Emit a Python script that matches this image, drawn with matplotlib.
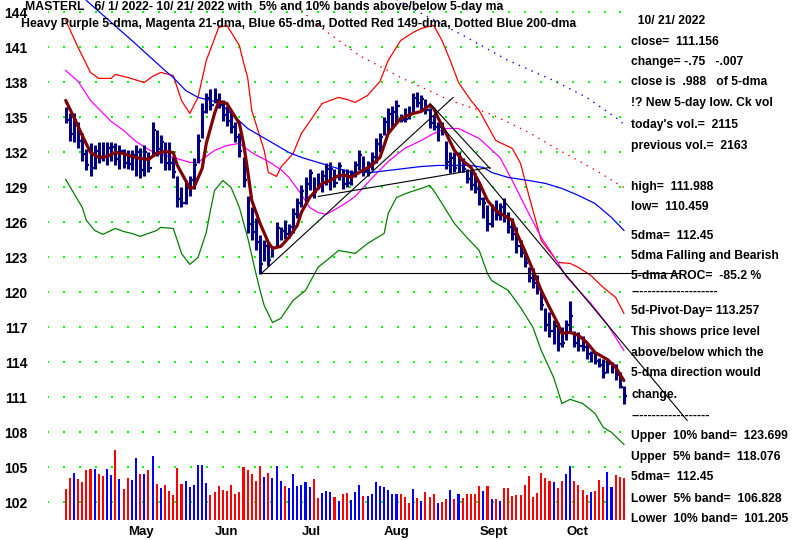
import numpy as np
import matplotlib.pyplot as plt

plt.rcParams['font.family'] = ['Liberation Sans', 'DejaVu Sans']
plt.rcParams['font.weight'] = 'bold'

# ---- daily bars, index 0 = first day shown, index 135 = 10/21/2022 ----
highs = [135.9, 135.4, 135.4, 134.6, 133.7, 132.3, 132.8, 132.6, 132.9, 132.9,
         132.9, 132.9, 132.8, 132.6, 132.3, 132.2, 132.2, 132.6, 132.4, 132.6,
         132.0, 134.6, 133.9, 133.5, 132.9, 132.9, 131.6, 130.0, 129.0, 129.6,
         130.0, 131.5, 133.6, 136.2, 137.1, 137.4, 137.5, 137.1, 136.5, 136.0,
         135.6, 134.6, 133.7, 131.6, 128.3, 127.3, 126.4, 124.9, 124.5, 124.3,
         124.0, 126.0, 125.6, 126.2, 125.9, 127.2, 128.1, 129.2, 129.9, 130.6,
         129.9, 130.2, 130.5, 131.1, 131.2, 130.6, 131.2, 130.6, 130.6, 130.5,
         131.3, 132.2, 131.7, 131.3, 132.0, 133.2, 133.7, 135.0, 135.8, 136.0,
         136.5, 135.3, 135.8, 136.0, 137.1, 137.2, 136.9, 136.6, 135.8, 135.2,
         134.6, 134.6, 133.0, 132.0, 132.0, 132.0, 131.5, 130.6, 130.5, 130.2,
         129.4, 128.2, 127.5, 127.6, 127.9, 127.7, 128.1, 126.9, 126.4, 125.6,
         124.5, 123.4, 122.2, 122.1, 121.5, 120.2, 118.7, 118.3, 117.6, 117.4,
         117.0, 117.6, 119.3, 116.7, 116.6, 116.3, 115.7, 115.0, 114.8, 114.4,
         114.3, 114.2, 114.0, 113.9, 113.2, 111.988]
lows = [134.5, 133.0, 132.9, 132.4, 131.3, 130.5, 130.0, 130.6, 131.1, 131.3,
        130.9, 131.3, 130.9, 130.6, 130.7, 130.6, 130.5, 130.0, 129.8, 130.0,
        130.3, 131.7, 131.7, 131.1, 130.5, 130.5, 129.8, 127.3, 127.3, 127.6,
        128.3, 128.9, 131.1, 133.2, 135.4, 135.6, 136.2, 135.8, 134.7, 134.3,
        133.7, 132.9, 131.6, 129.0, 125.1, 124.5, 123.6, 121.6, 122.7, 122.3,
        123.0, 124.0, 124.5, 124.6, 124.7, 125.1, 126.4, 127.3, 127.6, 128.8,
        128.1, 128.9, 128.6, 129.2, 128.8, 129.0, 129.6, 128.9, 129.0, 129.2,
        129.9, 130.5, 130.0, 130.0, 130.5, 131.1, 132.0, 133.5, 133.7, 134.1,
        134.5, 134.6, 134.6, 134.9, 135.3, 135.9, 135.6, 135.3, 134.1, 133.9,
        133.0, 133.5, 130.6, 130.2, 130.3, 130.3, 130.3, 129.4, 128.8, 128.5,
        127.5, 126.4, 125.3, 125.6, 126.2, 126.2, 126.0, 125.1, 124.5, 123.4,
        123.0, 122.2, 120.9, 120.4, 119.9, 118.5, 116.7, 116.2, 115.6, 115.0,
        115.3, 115.9, 116.7, 115.3, 115.0, 115.0, 114.3, 114.0, 113.9, 113.6,
        112.7, 113.1, 113.1, 112.5, 111.8, 110.459]
closes = [134.8, 133.6, 134.8, 133.0, 131.9, 130.9, 130.7, 132.1, 131.5, 131.7,
          132.4, 132.5, 131.4, 132.1, 131.1, 131.0, 131.8, 132.0, 130.5, 132.0,
          130.7, 133.9, 132.3, 132.9, 131.1, 131.1, 130.3, 128.0, 127.7, 129.1,
          129.6, 130.9, 133.0, 135.5, 136.7, 136.1, 136.5, 136.1, 135.2, 134.7,
          134.2, 133.3, 132.1, 129.6, 125.9, 125.2, 124.3, 122.4, 124.0, 122.8,
          123.8, 125.5, 125.3, 125.0, 125.6, 126.7, 127.7, 128.7, 129.3, 130.2,
          128.6, 129.2, 130.0, 130.6, 130.6, 129.4, 130.8, 129.3, 129.4, 130.2,
          130.9, 131.8, 130.4, 131.0, 131.6, 132.7, 133.3, 134.6, 135.3, 135.5,
          136.0, 134.8, 134.9, 135.2, 136.7, 136.2, 136.6, 135.6, 134.5, 134.2,
          134.2, 133.8, 131.2, 131.5, 130.7, 131.6, 130.6, 129.7, 129.2, 128.9,
          128.0, 127.7, 125.9, 127.1, 126.6, 127.3, 126.5, 125.6, 125.0, 124.0,
          123.4, 122.5, 121.2, 120.8, 120.3, 118.9, 117.2, 116.7, 117.1, 115.6,
          115.7, 117.2, 118.0, 115.7, 115.4, 115.3, 114.7, 114.8, 114.1, 113.8,
          113.1, 113.9, 113.8, 112.9, 111.9, 111.156]
volumes = [1560, 2110, 2360, 2060, 1910, 2520, 2570, 2570, 2310, 2210,
           2570, 2260, 3520, 2060, 1560, 2110, 2010, 3120, 2310, 2310,
           2520, 3220, 1810, 1610, 1760, 1460, 1260, 2620, 1810, 1960,
           1660, 1760, 2770, 2770, 1860, 1260, 1410, 1710, 1510, 1460,
           1760, 1310, 1410, 2670, 2520, 2310, 1960, 2720, 2160, 2360,
           2110, 2720, 1960, 1710, 1610, 2310, 1710, 1760, 1910, 1660,
           2060, 1110, 1360, 1460, 1410, 1160, 960, 1310, 1360, 1010,
           1410, 1760, 1210, 1210, 1310, 1910, 1710, 1660, 1510, 1310,
           1310, 1310, 1170, 860, 1560, 1110, 960, 1410, 1160, 1310,
           860, 910, 1060, 1510, 1060, 1310, 1110, 1310, 1310, 1310,
           1710, 1460, 1710, 1060, 1060, 960, 1610, 1610, 1210, 1260,
           1260, 1760, 2210, 1160, 1360, 2360, 2110, 1960, 1910, 1610,
           1960, 2310, 2720, 1960, 1760, 1510, 1260, 1410, 1460, 2010,
           1660, 2410, 1660, 2260, 2163, 2115]
# B = up day (blue volume), R = down day (red volume)
day_dir = ("RRBRRRRBRR" "BBRBRRBBRB" "RBRBRRRRRB" "BBBBBRRRRR" "RRRRRRRRBR"
           "BBBRBBBBBB" "RRBBBRBRRB" "BBRBBBBBBB" "B"
           "RRRBRBRRR" "BRRBRBRRRR" "RBRBRBRRRR" "RRRRRRRRBR" "RBBRRRRBRR" "RBBRRR")

# ---- moving averages and bands (day index, price) ----
ma5_x = [0, 2, 4, 6, 8, 10, 12, 14, 16, 18, 20, 22, 24, 26, 27, 29, 30, 31, 33, 34,
         36, 37, 39, 40, 42, 43, 44, 45, 47, 49, 50, 52, 54, 56, 57, 59, 61, 62, 64, 66,
         68, 69, 71, 74, 76, 78, 81, 84, 86, 88, 89, 90, 92, 94, 96, 98, 100, 102, 104, 106,
         108, 109, 111, 113, 115, 117, 119, 120, 122, 124, 126, 128, 131, 133, 135]
ma5_y = [136.46, 135.0, 133.46, 132.0, 131.58, 131.66, 132.0, 131.92, 131.66, 131.49,
         131.4, 131.92, 132.09, 132.0, 130.89, 129.6, 128.92, 129.0, 130.63, 132.78,
         135.35, 136.37, 136.2, 135.6, 134.49, 132.78, 130.46, 127.89, 125.92, 124.29,
         123.78, 123.95, 124.72, 125.75, 126.86, 128.15, 128.92, 129.35, 129.6, 130.03,
         130.03, 129.86, 130.29, 130.89, 131.58, 133.63, 134.92, 135.35, 135.52, 136.03,
         135.77, 135.0, 133.63, 132.18, 131.32, 130.72, 129.43, 127.89, 127.03, 126.61,
         126.18, 125.15, 123.6, 121.89, 120.18, 118.72, 117.35, 116.49, 116.58, 116.32,
         115.72, 114.86, 114.26, 113.58, 112.45]
ma21_x = [0, 3, 6, 11, 14, 17, 20, 22, 24, 26, 30, 32, 36, 39, 42, 45, 49, 52, 54, 57,
          59, 61, 63, 66, 68, 70, 74, 78, 82, 86, 89, 92, 95, 100, 105, 108, 111, 115, 119, 121,
          127, 131, 135]
ma21_y = [139.03, 138.09, 136.46, 134.66, 133.89, 132.95, 132.26, 131.92, 131.75, 131.58,
          131.15, 131.15, 132.18, 132.6, 132.78, 132.0, 131.23, 130.55, 129.86, 128.4,
          127.29, 126.86, 126.69, 127.29, 127.72, 128.23, 129.78, 131.23, 132.35, 133.03,
          133.63, 134.06, 134.06, 133.2, 131.58, 129.6, 127.46, 124.72, 122.58, 121.38,
          119.06, 117.26, 115.03]
ma65_x = [5, 16, 24, 26, 29, 32, 37, 40, 44, 49, 54, 57, 61, 65, 69, 74, 78, 82, 86, 90,
          95, 98, 101, 103, 107, 112, 116, 120, 124, 128, 132, 135]
ma65_y = [145.03, 141.6, 139.03, 138.43, 137.32, 136.72, 136.29, 135.35, 134.06, 133.03,
          132.0, 131.58, 131.15, 130.72, 130.29, 130.29, 130.46, 130.63, 130.8, 130.89,
          130.89, 130.89, 130.72, 130.29, 129.86, 129.6, 129.35, 128.92, 128.32, 127.63,
          126.43, 125.32]
upper_x = [0, 3, 6, 8, 11, 12, 15, 19, 21, 23, 26, 28, 30, 32, 34, 37, 39, 42, 43, 44,
           45, 48, 49, 51, 52, 55, 57, 60, 62, 66, 68, 70, 73, 76, 78, 81, 84, 86, 89, 91,
           93, 95, 98, 100, 104, 108, 110, 112, 115, 119, 122, 124, 127, 130, 133, 135]
upper_y = [143.32, 141.0, 138.86, 138.35, 138.35, 138.69, 138.43, 138.0, 138.52, 138.86,
           138.6, 136.46, 135.35, 136.72, 139.89, 142.72, 142.89, 141.17, 139.72, 138.43,
           135.6, 132.18, 130.29, 129.95, 130.72, 131.92, 133.63, 135.17, 136.2, 136.72,
           136.55, 136.29, 136.89, 138.09, 139.89, 141.6, 142.29, 142.63, 142.89, 141.6,
           139.89, 138.0, 136.46, 135.6, 133.03, 132.35, 131.06, 128.32, 124.46, 122.58,
           122.49, 122.15, 121.46, 120.43, 119.58, 118.21]
lower_x = [0, 2, 4, 5, 7, 9, 10, 12, 14, 16, 18, 20, 22, 23, 26, 27, 28, 30, 32, 34,
           35, 36, 38, 40, 42, 44, 46, 47, 48, 50, 52, 55, 58, 61, 64, 66, 70, 73, 77, 78,
           80, 83, 86, 88, 89, 91, 94, 97, 100, 102, 103, 107, 110, 113, 115, 118, 120, 122, 125, 128,
           130, 132, 135]
lower_y = [129.69, 128.49, 127.29, 126.18, 125.32, 124.98, 125.15, 125.49, 125.23, 125.06,
           124.81, 125.06, 125.32, 125.58, 125.49, 124.46, 123.35, 122.41, 123.01, 125.15,
           127.03, 128.75, 129.6, 129.0, 127.29, 124.72, 121.63, 120.18, 118.89, 117.43,
           117.78, 119.32, 120.18, 122.15, 123.01, 123.6, 123.35, 124.2, 125.06, 126.78,
           128.15, 128.58, 128.92, 129.18, 128.75, 127.63, 125.92, 124.72, 123.6, 121.63,
           121.03, 120.18, 118.72, 117.01, 115.03, 112.72, 110.49, 110.84, 110.49, 109.64,
           108.44, 108.01, 106.98]
ma149_x = [57, 62, 71, 81, 93, 103, 112, 119, 127, 135]
ma149_y = [144.17, 142.63, 140.32, 138.43, 136.46, 135.26, 133.72, 132.26, 130.72, 129.0]
ma200_x = [80, 86, 97, 107, 118, 126, 134, 135]
ma200_y = [145.12, 143.92, 141.86, 139.89, 138.17, 136.72, 134.75, 134.4]

# trend lines (start day, start price, end day, end price)
trend_x0 = [47.3, 47.3, 61.1, 88.1, 91.2]
trend_y0 = [121.63, 121.63, 128.23, 136.2, 134.15]
trend_x1 = [93.7, 148.6, 102.6, 102.6, 150.3]
trend_y1 = [136.72, 121.63, 130.72, 130.63, 109.04]

price_ticks = list(range(102, 145, 3))
months = ['May', 'Jun', 'Jul', 'Aug', 'Sept', 'Oct']
month_start = [15, 36, 57, 77, 100, 121]

header1 = 'MASTERL   6/ 1/ 2022- 10/ 21/ 2022 with  5% and 10% bands above/below 5-day ma'
header2 = 'Heavy Purple 5-dma, Magenta 21-dma, Blue 65-dma, Dotted Red 149-dma, Dotted Blue 200-dma'
side_text = [
    (21, '  10/ 21/ 2022'), (42, 'close=  111.156'), (62, 'change= -.75   -.007'),
    (82, 'close is  .988   of 5-dma'), (103, '!? New 5-day low. Ck vol'),
    (125, "today's vol.=  2115"), (146, 'previous vol.=  2163'),
    (187, 'high=  111.988'), (207, 'low=  110.459'), (236, '5dma=  112.45'),
    (256, '5dma Falling and Bearish'), (276, '5-dma AROC=  -85.2 %'),
    (292, '---------------------'), (311, '5d-Pivot-Day= 113.257'),
    (332, 'This shows price level'), (353, 'above/below which the'),
    (373, '5-dma direction would'), (395, 'change.'),
    (416, '-------------------'), (436, 'Upper  10% band=  123.699'),
    (457, 'Upper  5% band=  118.076'), (477, '5dma=  112.45'),
    (499, 'Lower  5% band=  106.828'), (519, 'Lower  10% band=  101.205'),
]

# ---- figure ----
W, H = 800, 540
fig = plt.figure(figsize=(8, 5.4), dpi=100)
fig.patch.set_facecolor('white')
# axes spans pixel x 48..800, y 0..520
ax = fig.add_axes([48 / W, 20 / H, 752 / W, 520 / H])
x0_px, dx_px = 65.7, 4.135           # pixel x of day 0, pixels per day
ax.set_xlim((48 - x0_px) / dx_px, (800 - x0_px) / dx_px)
ymin, ymax = 100.5, 145.07
ax.set_ylim(ymin, ymax)
for s in ax.spines.values():
    s.set_visible(False)
ax.set_facecolor('white')

days = np.arange(len(highs))

# green dotted grid
grid_cols = (48 + 15.9 * np.arange(37) - x0_px) / dx_px
gx, gy = np.meshgrid(grid_cols, price_ticks)
ax.scatter(gx.ravel(), gy.ravel(), s=2.2, marker='s', color='#00ff00', linewidths=0, zorder=1)

# volume bars
vol_scale = (ymax - ymin) / 520 / 50.3   # price units per volume unit
vcol = ['#0000ff' if c == 'B' else '#ff0000' for c in day_dir]
ax.bar(days, np.array(volumes) * vol_scale, bottom=ymin, width=0.5, color=vcol, zorder=2)

# averages and bands
ax.plot(upper_x, upper_y, color='#ff0000', lw=0.9, zorder=3)
ax.plot(lower_x, lower_y, color='#008000', lw=0.9, zorder=3)
ax.plot(ma21_x, ma21_y, color='#ff00ff', lw=0.9, zorder=3)
ax.plot(ma65_x, ma65_y, color='#0000ff', lw=0.9, zorder=3)
ax.plot(ma149_x, ma149_y, color='#ff0000', lw=1, ls=(0, (1, 4)), zorder=3)
ax.plot(ma200_x, ma200_y, color='#0000ff', lw=1, ls=(0, (1, 4)), zorder=3)

# price bars
ax.vlines(days, lows, highs, color='#000080', lw=2.2, zorder=4)
ax.hlines(closes, days + 0.25, days + 0.75, color='#000080', lw=1.6, zorder=4)

# 5-dma
ax.plot(ma5_x, ma5_y, color='#800000', lw=2.3, zorder=5, solid_capstyle='round')

# trend lines
for a, b, c, d in zip(trend_x0, trend_y0, trend_x1, trend_y1):
    ax.plot([a, c], [b, d], color='black', lw=0.8, zorder=6)

ax.set_yticks(price_ticks)
ax.set_yticklabels([str(t) for t in price_ticks])
ax.set_xticks(month_start)
ax.set_xticklabels(months)
for lab in ax.get_xticklabels():
    lab.set_ha('left')
ax.tick_params(axis='y', length=0, pad=15, labelsize=10)
ax.tick_params(axis='x', length=0, pad=4, labelsize=9.5)

fig.text(25 / W, 1 - 7 / H, header1, fontsize=8.8, va='center', ha='left')
fig.text(21 / W, 1 - 24 / H, header2, fontsize=8.8, va='center', ha='left')
for ypx, s in side_text:
    fig.text(631 / W, 1 - ypx / H, s, fontsize=8.7, va='center', ha='left')

fig.savefig('out.png', dpi=100, facecolor='white')
